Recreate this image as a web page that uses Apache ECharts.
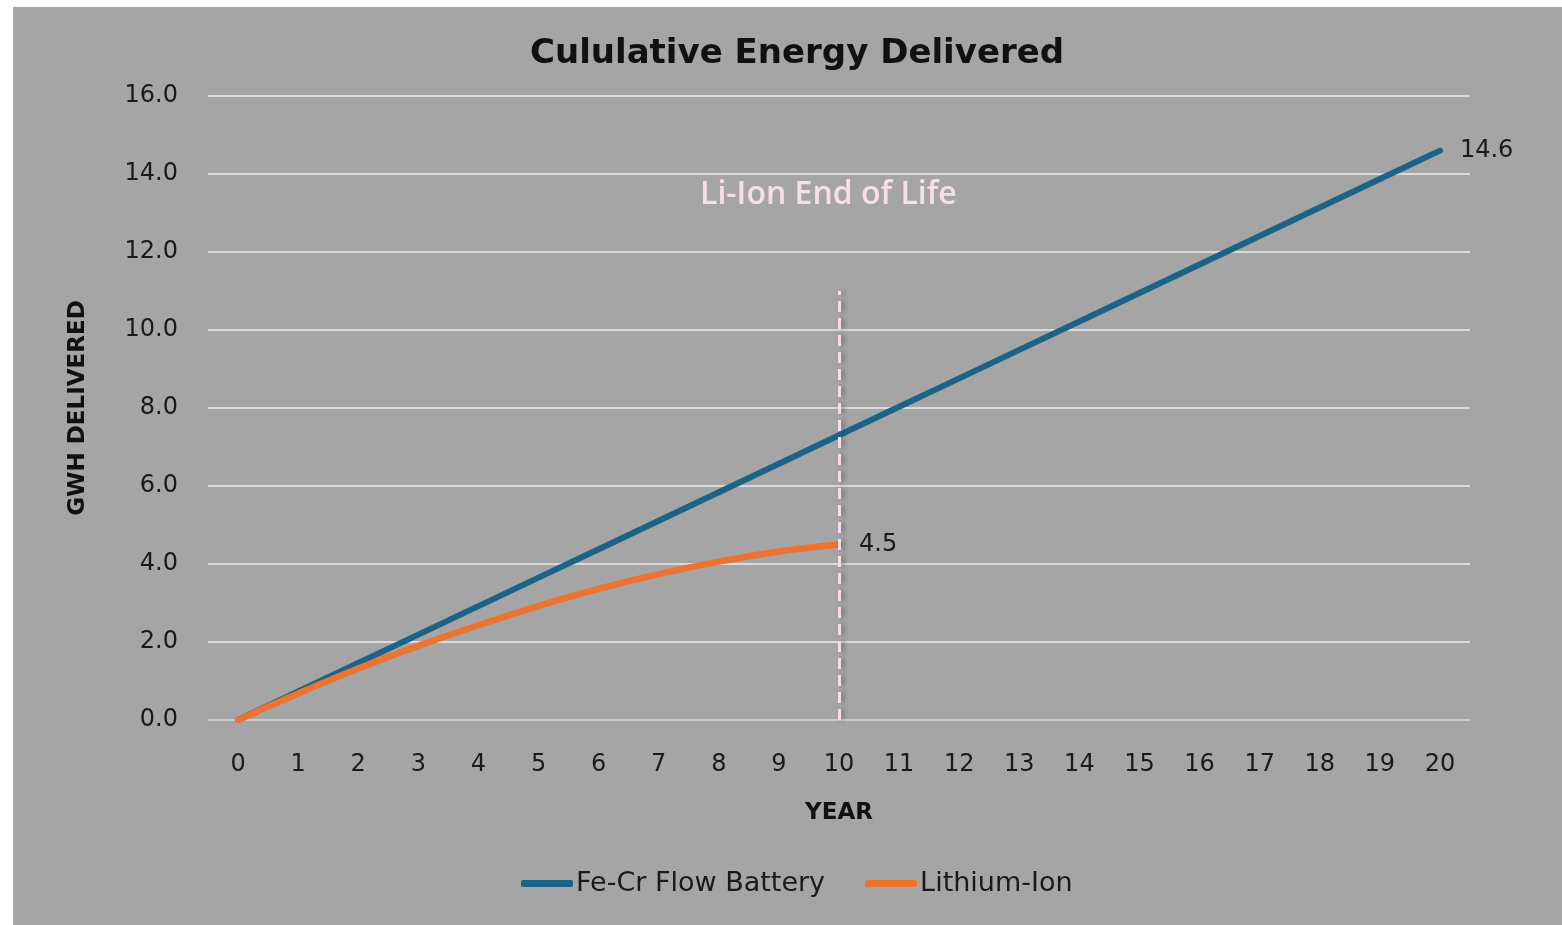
<!DOCTYPE html>
<html>
<head>
<meta charset="utf-8">
<script src="https://cdn.jsdelivr.net/npm/echarts@6/dist/echarts.min.js"></script>
<style>
html,body{margin:0;padding:0;background:#ffffff;width:1562px;height:925px;overflow:hidden;}
#chart{position:absolute;left:13px;top:7px;width:1549px;height:918px;background:#a5a5a5;}
</style>
</head>
<body>
<div id="chart"></div>
<script>
const years = ['0','1','2','3','4','5','6','7','8','9','10','11','12','13','14','15','16','17','18','19','20'];
const feCr = [0, 0.73, 1.46, 2.19, 2.92, 3.65, 4.38, 5.11, 5.84, 6.57, 7.3, 8.03, 8.76, 9.49, 10.22, 10.95, 11.68, 12.41, 13.14, 13.87, 14.6];
const liIon = [0, 0.68, 1.32, 1.9, 2.43, 2.92, 3.36, 3.74, 4.06, 4.32, 4.5];
const yTicks = {min: 0, max: 16, interval: 2};
const endOfLifeYear = '10';
const endOfLifeTop = 11;

const FONT = '"DejaVu Sans", sans-serif';
const chart = echarts.init(document.getElementById('chart'));

const endLabel = {
  show: true, distance: 20,
  formatter: (p) => Number(p.value).toFixed(1),
  fontFamily: FONT, fontSize: 24, color: '#1a1a1a'
};

chart.setOption({
  backgroundColor: '#a5a5a5',
  animation: false,
  title: {
    text: 'Cululative Energy Delivered',
    left: 512, top: 25,
    textStyle: {fontFamily: FONT, fontWeight: 'bold', fontSize: 34, color: '#111111'}
  },
  grid: {left: 195, right: 92, top: 89, bottom: 205},
  legend: {
    bottom: 23, left: 503,
    itemWidth: 52, itemHeight: 7, itemGap: 40,
    icon: 'roundRect',
    textStyle: {fontFamily: FONT, fontSize: 27, color: '#1a1a1a', padding: [0, 0, 0, -2]},
    data: ['Fe-Cr Flow Battery', 'Lithium-Ion']
  },
  xAxis: {
    type: 'category', data: years, boundaryGap: true,
    name: 'YEAR', nameLocation: 'middle', nameGap: 82,
    nameTextStyle: {fontFamily: FONT, fontWeight: 'bold', fontSize: 23, color: '#111111'},
    axisLine: {show: true, lineStyle: {color: '#c4c4c4', width: 1.5, type: 'dotted'}},
    axisTick: {show: false},
    axisLabel: {fontFamily: FONT, fontSize: 24, color: '#1a1a1a', margin: 33}
  },
  yAxis: {
    type: 'value', min: yTicks.min, max: yTicks.max, interval: yTicks.interval,
    name: 'GWH DELIVERED', nameLocation: 'middle', nameGap: 118,
    nameTextStyle: {fontFamily: FONT, fontWeight: 'bold', fontSize: 23, color: '#111111'},
    axisLine: {show: false}, axisTick: {show: false},
    axisLabel: {fontFamily: FONT, fontSize: 24, color: '#1a1a1a', margin: 30, formatter: (v) => v.toFixed(1)},
    splitLine: {lineStyle: {color: '#d9d9d9', width: 2}}
  },
  graphic: [{
    type: 'text', left: 687, top: 172,
    style: {text: 'Li-Ion End of Life', fill: '#f6dfeb', font: '600 32px "Open Sans", sans-serif'}
  }],
  series: [
    {
      name: 'Fe-Cr Flow Battery', type: 'line', data: feCr,
      showSymbol: false, symbol: 'none',
      lineStyle: {color: '#1b6487', width: 6, cap: 'round'},
      itemStyle: {color: '#1b6487'},
      endLabel: endLabel,
      z: 3
    },
    {
      name: 'Lithium-Ion', type: 'line', data: liIon, smooth: 0.3,
      showSymbol: false, symbol: 'none',
      lineStyle: {color: '#ed7330', width: 6.5, cap: 'round'},
      itemStyle: {color: '#ed7330'},
      endLabel: endLabel,
      z: 4,
      markLine: {
        silent: true, symbol: ['none', 'none'], label: {show: false},
        lineStyle: {color: '#f8dcea', width: 3, type: [11, 6], shadowColor: 'rgba(60,60,60,0.5)', shadowBlur: 4, shadowOffsetX: 3},
        data: [[{coord: [endOfLifeYear, 0]}, {coord: [endOfLifeYear, endOfLifeTop]}]]
      }
    }
  ]
});
</script>
</body>
</html>
